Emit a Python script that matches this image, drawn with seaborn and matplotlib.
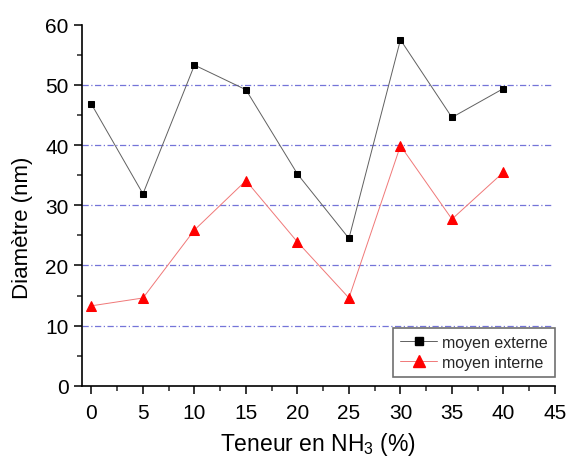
import numpy as np
import matplotlib
matplotlib.use('Agg')
import matplotlib.pyplot as plt
import pandas as pd
import seaborn as sns
from matplotlib.ticker import MultipleLocator
from matplotlib.lines import Line2D

# Values
teneur = [0, 5, 10, 15, 20, 25, 30, 35, 40]
moyen_externe = [46.8, 31.9, 53.3, 49.2, 35.2, 24.5, 57.5, 44.6, 49.4]
moyen_interne = [13.3, 14.6, 25.9, 34.1, 23.9, 14.6, 39.9, 27.7, 35.5]
y_grid = [10, 20, 30, 40, 50]

sns.set_style('ticks')
plt.rcParams['font.family'] = ['Liberation Sans', 'DejaVu Sans']
plt.rcParams['mathtext.fontset'] = 'custom'
plt.rcParams['mathtext.rm'] = 'Liberation Sans'

fig = plt.figure(figsize=(5.68, 4.6), dpi=100)
ax = fig.add_axes([0.144, 0.159, 0.833, 0.785])

# dash-dot guide lines
ax.hlines(y_grid, -0.94, 44.8, colors='#7474d8', linewidths=0.9,
          linestyles=(0, (5, 2, 1, 2)), zorder=0)

sns.lineplot(x=teneur, y=moyen_externe, color='#606060', lw=0.7, marker='s',
             markersize=4.8, markerfacecolor='black', markeredgecolor='black', ax=ax)
sns.lineplot(x=teneur, y=moyen_interne, color='#f07878', lw=0.7, marker='^',
             markersize=6.5, markerfacecolor='red', markeredgecolor='red', ax=ax)

handles = [
    Line2D([], [], color='#606060', lw=0.7, marker='s', mfc='black', mec='black', ms=6),
    Line2D([], [], color='#f07878', lw=0.7, marker='^', mfc='red', mec='red', ms=8.5),
]
leg = ax.legend(handles, ['moyen externe', 'moyen interne'], loc='lower right',
                bbox_to_anchor=(1.0, 0.025), fontsize=11.5, frameon=True, fancybox=False,
                handlelength=2.3, borderpad=0.45, labelspacing=0.3, handletextpad=0.3,
                borderaxespad=0.0)
leg.get_frame().set_edgecolor('#707070')
leg.get_frame().set_linewidth(1.2)
leg.get_frame().set_alpha(1)

ax.set_xlim(-0.94, 45)
ax.set_ylim(0, 60)
ax.xaxis.set_major_locator(MultipleLocator(5))
ax.xaxis.set_minor_locator(MultipleLocator(2.5))
ax.yaxis.set_major_locator(MultipleLocator(10))
ax.yaxis.set_minor_locator(MultipleLocator(5))
ax.tick_params(which='major', direction='out', length=6, width=1.1, labelsize=15,
               colors='black')
ax.tick_params(which='minor', direction='out', length=3.5, width=1.1)
ax.tick_params(axis='x', which='major', pad=6)
ax.tick_params(axis='y', which='major', pad=3.5)
for s in ['top', 'right']:
    ax.spines[s].set_visible(False)
for s in ['left', 'bottom']:
    ax.spines[s].set_linewidth(1.2)
    ax.spines[s].set_color('black')

ax.set_xlabel('Teneur en NH$_3$ (%)', fontsize=16.5, color='black', labelpad=6)
ax.set_ylabel('Diamètre (nm)', fontsize=16, color='black')
ax.yaxis.set_label_coords(-0.104, 0.44)

fig.savefig('out.png', dpi=100)
